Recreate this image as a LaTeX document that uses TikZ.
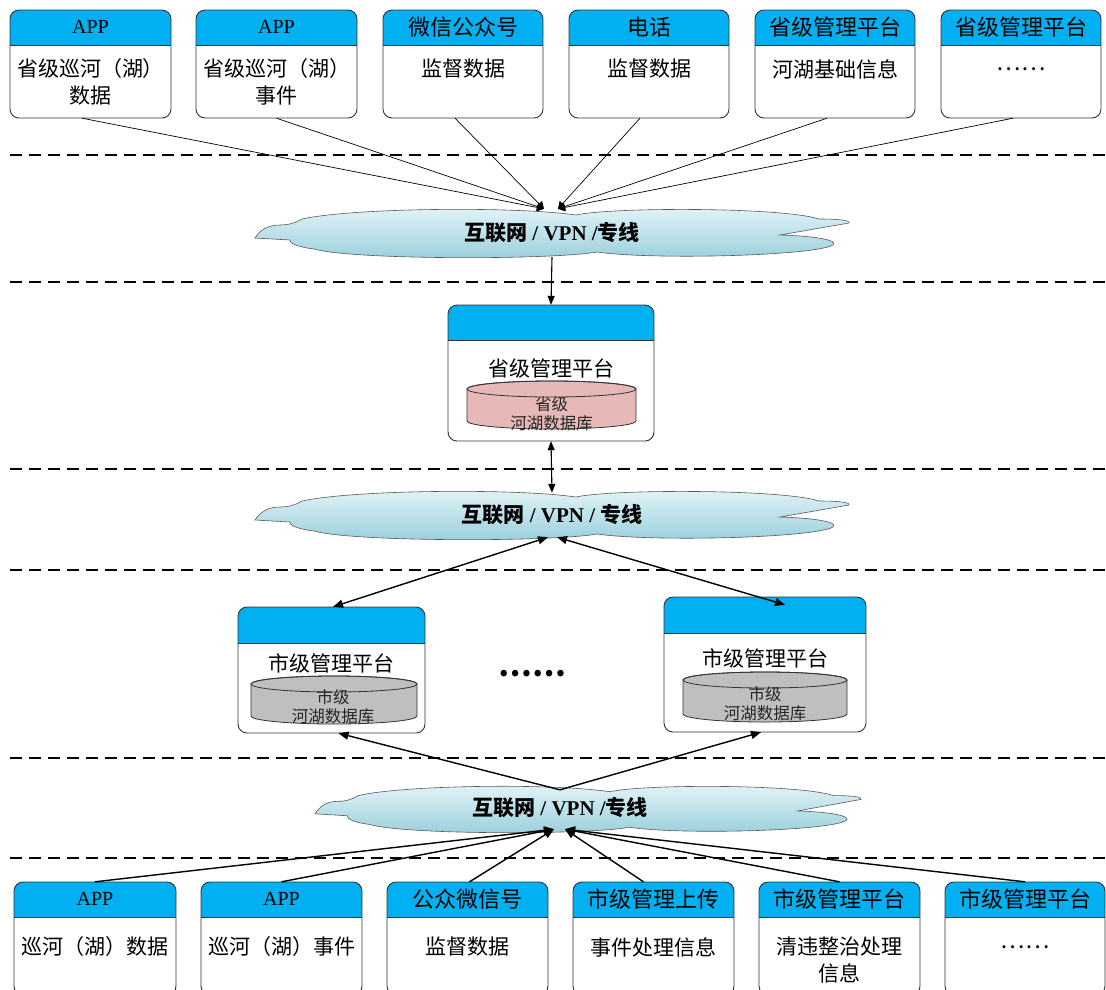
\documentclass[tikz,border=0pt]{standalone}
\usepackage{fontspec}
\setmainfont{Liberation Serif}
\newfontfamily\cjk{Noto Sans CJK SC}
\usetikzlibrary{arrows.meta,fit}
\definecolor{hdrblue}{HTML}{00B0F0}
\definecolor{provpink}{HTML}{E6B9B8}
\definecolor{citygray}{HTML}{BFBFBF}
\definecolor{cloudtop}{HTML}{E4F4F8}
\definecolor{cloudbot}{HTML}{98CFDC}

% box: name, x1, ytop, x2, ybottom, header bottom
\newcommand{\ibox}[6]{%
  \fill[white, rounded corners=9pt] (#2,-#3) rectangle (#4,-#5);
  \fill[hdrblue, rounded corners=9pt] (#2,-#3) rectangle (#4,-#6);
  \fill[hdrblue] (#2,-#3-12) rectangle (#4,-#6);
  \draw[boxline] (#2,-#6) -- (#4,-#6);
  \draw[boxline, rounded corners=9pt] (#2,-#3) rectangle (#4,-#5);
  \node[fit={(#2,-#3) (#4,-#5)}, inner sep=0pt] (#1) {};
}
% cylinder: cx, top ellipse cy, rx, side bottom y, fill
\newcommand{\dbcyl}[5]{%
  \filldraw[fill=#5, draw=black!80, line width=0.8pt]
    (#1-#3,-#2) -- (#1-#3,-#4)
    arc[start angle=180, end angle=360, x radius=#3, y radius=8]
    -- (#1+#3,-#2)
    arc[start angle=0, end angle=180, x radius=#3, y radius=8] -- cycle;
  \draw[draw=black!80, line width=0.8pt] (#1,-#2) ellipse[x radius=#3, y radius=8];
}
% cloud: cx, cy, xscale, yscale  (base half width 297, half height 23)
\newcommand{\cloudshape}[4]{%
  \begin{scope}[shift={(#1,-#2)}, xscale=#3, yscale=#4]
  \shade[top color=cloudtop, bottom color=cloudbot, draw=black!65, line width=0.6pt]
    (-297,-5) .. controls (-292,3) and (-284,8) .. (-272,8)
    .. controls (-262,8) and (-255,11) .. (-250,14)
    .. controls (-200,25) and (-40,27) .. (24,18)
    .. controls (60,26) and (230,26) .. (267,14)
    .. controls (285,14) and (298,13) .. (297,10)
    -- (228,-2)
    .. controls (262,-3) and (287,-7) .. (281,-12)
    .. controls (262,-23) and (100,-27) .. (45,-19)
    .. controls (0,-27) and (-200,-27) .. (-238,-16)
    .. controls (-255,-14) and (-263,-10) .. (-262,-7)
    -- cycle;
  \end{scope}
}

\begin{document}
\begin{tikzpicture}[x=1pt,y=1pt,
  boxline/.style={draw=black!80, line width=0.9pt},
  sepline/.style={line width=1.4pt, dash pattern=on 12pt off 7pt},
  thinarr/.style={line width=0.7pt, -{Triangle[length=7pt,width=8pt]}},
  arr/.style={line width=1.4pt, -{Triangle[length=10pt,width=8pt]}},
  midarr/.style={line width=1.1pt, -{Triangle[length=9pt,width=7pt]}},
  darr/.style={line width=1.4pt, {Triangle[length=10pt,width=8pt]}-{Triangle[length=10pt,width=8pt]}},
  dmidarr/.style={line width=1.1pt, {Triangle[length=9pt,width=7pt]}-{Triangle[length=9pt,width=7pt]}},
  apptxt/.style={font=\fontsize{20}{24}\selectfont, inner sep=0pt},
  hdrtxt/.style={font=\cjk\fontsize{22}{26}\selectfont, inner sep=0pt},
  bodytxt/.style={font=\cjk\fontsize{21}{27}\selectfont, align=center, inner sep=0pt},
  dbtxt/.style={font=\cjk\fontsize{16.5}{19}\selectfont, align=center, inner sep=0pt, text=black!85},
  cloudtxt/.style={font=\fontsize{21}{24}\selectfont\bfseries, inner sep=0pt, minimum width=590pt},
  dotstxt/.style={font=\cjk\fontsize{23}{26}\selectfont, inner sep=0pt}
]
\useasboundingbox (0,0) rectangle (1106,-989);

% separators
\foreach \yy in {155,282,469,570,758,858}
  \draw[sepline] (10,-\yy) -- (1106,-\yy);

% clouds
\cloudshape{552}{233}{1}{1}
\node[cloudtxt, minimum height=48pt] (c1) at (552,-233) {{\cjk 互联网} / VPN /{\cjk 专线}};
\cloudshape{552}{515}{1}{1}
\node[cloudtxt, minimum height=44pt] (c2) at (552,-515) {{\cjk 互联网} / VPN / {\cjk 专线}};
\cloudshape{588}{809}{0.919}{0.96}
\node[cloudtxt, minimum width=540pt, minimum height=42pt] (c3) at (560,-808) {{\cjk 互联网} / VPN /{\cjk 专线}};

% top boxes
\ibox{t1}{10}{10}{171}{118}{45}
\ibox{t2}{196}{10}{357}{118}{45}
\ibox{t3}{383}{10}{543}{118}{45}
\ibox{t4}{569}{10}{729}{118}{45}
\ibox{t5}{755}{10}{915}{118}{45}
\ibox{t6}{941}{10}{1101}{118}{45}
\node[apptxt] (t1h) at (90.5,-27) {APP};
\node[apptxt] (t2h) at (276.5,-27) {APP};
\node[hdrtxt] (t3h) at (463,-27) {微信公众号};
\node[hdrtxt] (t4h) at (649,-27) {电话};
\node[hdrtxt] (t5h) at (835,-27) {省级管理平台};
\node[hdrtxt] (t6h) at (1021,-27) {省级管理平台};
\node[bodytxt] (t1b) at (90.5,-81.5) {省级巡河（湖）\\数据};
\node[bodytxt] (t2b) at (276.5,-81.5) {省级巡河（湖）\\事件};
\node[bodytxt] (t3b) at (463,-69) {监督数据};
\node[bodytxt] (t4b) at (649,-69) {监督数据};
\node[bodytxt] (t5b) at (835,-69) {河湖基础信息};
\node[dotstxt] (t6b) at (1021,-69) {……};

% province box
\ibox{p}{448}{305}{654}{441}{340}
\node[bodytxt] (ph) at (551,-368) {省级管理平台};
\dbcyl{551.5}{389}{84.5}{421}{provpink}
\node[dbtxt] (pdb) at (551.5,-414) {省级\\河湖数据库};

% city boxes
\ibox{cl}{238}{607}{425}{733}{643}
\node[bodytxt] (clh) at (331.5,-663) {市级管理平台};
\dbcyl{334}{684}{83}{716}{citygray}
\node[dbtxt] (cldb) at (333,-706.5) {市级\\河湖数据库};

\ibox{cr}{664}{597}{866}{732}{633}
\node[bodytxt] (crh) at (765,-658) {市级管理平台};
\dbcyl{765}{680}{82}{714}{citygray}
\node[dbtxt] (crdb) at (765,-704) {市级\\河湖数据库};

\node[font=\cjk\fontsize{30}{34}\selectfont\bfseries, inner sep=0pt] (mdots) at (532,-674) {……};

% bottom boxes
\ibox{b1}{14}{882}{176}{995}{917}
\ibox{b2}{201}{882}{362}{995}{917}
\ibox{b3}{387}{882}{548}{995}{917}
\ibox{b4}{573}{882}{734}{995}{917}
\ibox{b5}{759}{882}{920}{995}{917}
\ibox{b6}{945}{882}{1105}{995}{917}
\node[apptxt] (b1h) at (95,-899) {APP};
\node[apptxt] (b2h) at (281.5,-899) {APP};
\node[hdrtxt] (b3h) at (467.5,-899) {公众微信号};
\node[hdrtxt] (b4h) at (653.5,-899) {市级管理上传};
\node[hdrtxt] (b5h) at (839.5,-899) {市级管理平台};
\node[hdrtxt] (b6h) at (1025,-899) {市级管理平台};
\node[bodytxt] (b1b) at (95,-947) {巡河（湖）数据};
\node[bodytxt] (b2b) at (281.5,-947) {巡河（湖）事件};
\node[bodytxt] (b3b) at (467.5,-947) {监督数据};
\node[bodytxt] (b4b) at (653.5,-947) {事件处理信息};
\node[bodytxt] (b5b) at (839.5,-960) {清违整治处理\\信息};
\node[dotstxt] (b6b) at (1025,-947) {……};

% top connectors
\draw[thinarr] ([xshift=-8.5pt]t1.south) -- ([xshift=-8pt]c1.north);
\draw[thinarr] (t2.south) -- ([xshift=-8pt]c1.north);
\draw[thinarr] ([xshift=-8pt]t3.south) -- ([xshift=-8pt]c1.north);
\draw[thinarr] ([xshift=-9pt]t4.south) -- ([xshift=6pt]c1.north);
\draw[thinarr] ([xshift=-8pt]t5.south) -- ([xshift=6pt]c1.north);
\draw[thinarr] ([xshift=-8pt]t6.south) -- ([xshift=6pt]c1.north);

% middle connectors
\draw[midarr] (c1.south) -- (p.north);
\draw[dmidarr] (p.south) -- (c2.north);
\draw[darr] ([xshift=-4pt]c2.south) -- ([xshift=1.5pt]cl.north);
\draw[darr] ([xshift=5pt]c2.south) -- ([xshift=20pt,yshift=-8pt]cr.north);
\draw[arr] ([yshift=-3pt]c3.north) -- ([xshift=7pt]cl.south);
\draw[arr] ([yshift=-3pt]c3.north) -- ([xshift=-4pt]cr.south);

% bottom connectors
\draw[arr] (b1.north) -- ([xshift=-6pt]c3.south);
\draw[arr] (b2.north) -- ([xshift=-6pt]c3.south);
\draw[arr] ([xshift=2pt]b3.north) -- ([xshift=-6pt]c3.south);
\draw[arr] ([xshift=-10pt]b4.north) -- ([xshift=5pt]c3.south);
\draw[arr] (b5.north) -- ([xshift=5pt]c3.south);
\draw[arr] (b6.north) -- ([xshift=5pt]c3.south);
\end{tikzpicture}
\end{document}
